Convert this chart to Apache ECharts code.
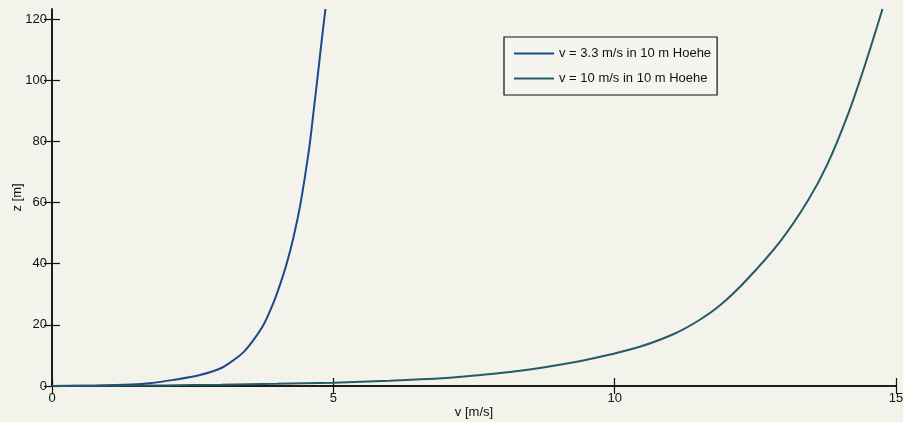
<!DOCTYPE html>
<html>
<head>
<meta charset="utf-8">
<script src="https://cdn.jsdelivr.net/npm/echarts@6/dist/echarts.min.js"></script>
<style>
html,body{margin:0;padding:0;background:#f3f3ec;}
#c{width:903px;height:422px;}
</style>
</head>
<body>
<div id="c"></div>
<script>
// Data: [v (m/s), z (m)]
const seriesNames = ['v = 3.3 m/s in 10 m Hoehe', 'v = 10 m/s in 10 m Hoehe'];
const profileSlow = [
  [0,0],[0.8,0.2],[1.4,0.5],[1.74,0.9],[2.16,2],[2.63,3.6],[3.0,5.8],[3.23,8.5],
  [3.4,11],[3.58,15],[3.76,20],[3.92,26.5],[4.05,33],[4.17,40],[4.29,48.5],[4.41,59],
  [4.5,69],[4.58,79],[4.65,90],[4.72,101],[4.79,112.5],[4.86,123.3]
];
const profileFast = [
  [0,0],[1,0.1],[2,0.2],[3,0.4],[4,0.7],[5,1.1],[6,1.7],[7,2.6],[7.5,3.4],[8.1,4.5],
  [8.7,6.0],[9.4,8.2],[9.9,10.2],[10.46,12.9],[11.05,17],[11.5,21.5],[11.9,26.8],
  [12.36,35],[12.95,47.5],[13.43,60.5],[13.78,72.5],[14.14,88.5],[14.44,104.5],[14.76,123.3]
];
const xTicks = [0,5,10,15];
const yTicks = [0,20,40,60,80,100,120];
const xRange = [0,15];
const yRange = [0,123.3];

const chart = echarts.init(document.getElementById('c'));
const axisLine = {show:true, lineStyle:{color:'#111', width:1.5}};
const tick = {show:true, inside:true, length:8, lineStyle:{color:'#111', width:1.2}};
const labelFont = {color:'#111', fontSize:13, fontFamily:'Liberation Sans, Arial, sans-serif'};

chart.setOption({
  backgroundColor:'#f3f3ec',
  animation:false,
  grid:{left:52, right:7, top:9, bottom:36, containLabel:false, outerBoundsMode:'none'},
  legend:{
    show:true, orient:'vertical', left:504, top:37,
    padding:[10,6,10,9], itemGap:12, itemWidth:40, itemHeight:14,
    borderColor:'#111', borderWidth:1.2, backgroundColor:'#f5f5ef',
    itemStyle:{opacity:0},
    textStyle:Object.assign({}, labelFont),
    data:seriesNames
  },
  xAxis:[{
    type:'value', min:xRange[0], max:xRange[1], interval:5,
    axisLine:axisLine, axisTick:Object.assign({customValues:xTicks}, tick),
    axisLabel:Object.assign({customValues:xTicks, margin:6}, labelFont),
    splitLine:{show:false},
    name:'v [m/s]', nameLocation:'middle', nameGap:20, nameMoveOverlap:false,
    nameTextStyle:Object.assign({}, labelFont)
  },{
    type:'value', position:'top', min:xRange[0], max:xRange[1], interval:5,
    axisLine:axisLine, axisTick:Object.assign({customValues:xTicks}, tick),
    axisLabel:{show:false}, splitLine:{show:false}
  }],
  yAxis:[{
    type:'value', min:yRange[0], max:yRange[1], interval:20,
    axisLine:axisLine, axisTick:Object.assign({customValues:yTicks}, tick),
    axisLabel:Object.assign({customValues:yTicks, margin:5}, labelFont),
    splitLine:{show:false},
    name:'z [m]', nameLocation:'middle', nameGap:28, nameRotate:90, nameMoveOverlap:false,
    nameTextStyle:Object.assign({}, labelFont)
  },{
    type:'value', position:'right', min:yRange[0], max:yRange[1], interval:20,
    axisLine:axisLine, axisTick:Object.assign({customValues:yTicks}, tick),
    axisLabel:{show:false}, splitLine:{show:false}
  }],
  series:[{
    name:seriesNames[0], type:'line', data:profileSlow, smooth:0.3,
    symbol:'none', lineStyle:{color:'#1c4a8c', width:2}, itemStyle:{color:'#1c4a8c'}
  },{
    name:seriesNames[1], type:'line', data:profileFast, smooth:0.3,
    symbol:'none', lineStyle:{color:'#235b68', width:2}, itemStyle:{color:'#235b68'}
  }]
});
</script>
</body>
</html>
